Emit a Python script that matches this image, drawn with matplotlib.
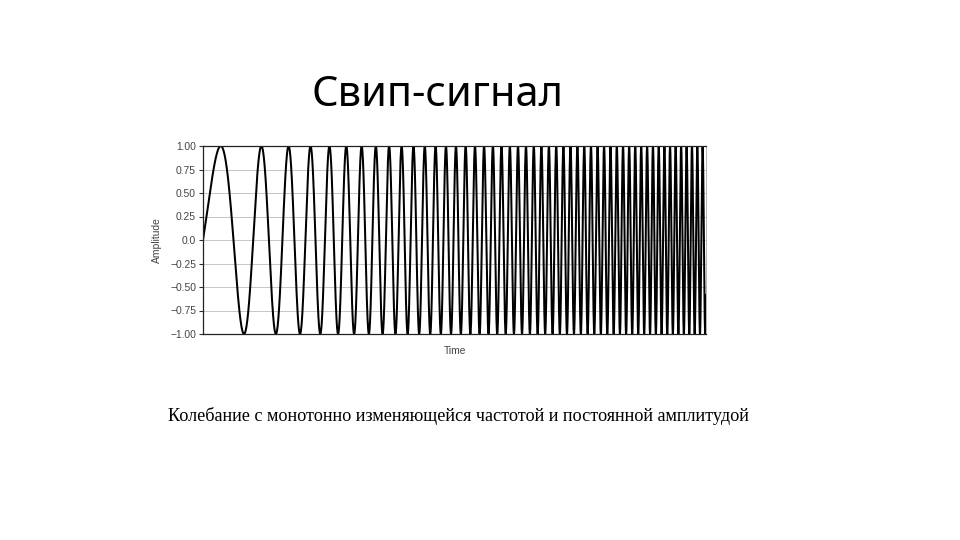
import numpy as np
import matplotlib
matplotlib.use("Agg")
import matplotlib.pyplot as plt
from matplotlib.ticker import FixedLocator, FixedFormatter

# ---- data ----
title_text = "Свип-сигнал"
caption_text = "Колебание с монотонно изменяющейся частотой и постоянной амплитудой"
x_label = "Time"
y_label = "Amplitude"
y_tick_values = [1.00, 0.75, 0.50, 0.25, 0.0, -0.25, -0.50, -0.75, -1.00]
y_tick_labels = ["1.00", "0.75", "0.50", "0.25", "0.0", "\u22120.25", "\u22120.50", "\u22120.75", "\u22121.00"]
# linear frequency sweep: time span (s) and instantaneous frequency (Hz) at its ends,
# estimated from the spacing of the peaks in the picture (~51 cycles in total)
sweep_time = [0.0, 1.0]
sweep_freq = [5.5, 96.3]
amplitude = 1.0

# ---- signal ----
t = np.linspace(sweep_time[0], sweep_time[1], 40000)
f0, f1 = sweep_freq
T = sweep_time[1] - sweep_time[0]
phase = 2 * np.pi * (f0 * t + (f1 - f0) * t ** 2 / (2 * T))
y = amplitude * np.sin(phase)

small_font = ["Liberation Sans", "DejaVu Sans"]

fig = plt.figure(figsize=(9.6, 5.4), dpi=100)
fig.patch.set_facecolor("white")

ax = fig.add_axes([203 / 960, 1 - 334 / 540, (706 - 203) / 960, (334 - 146) / 540])
ax.plot(t, y, color="black", linewidth=1.45, solid_joinstyle="miter")
ax.set_xlim(sweep_time[0], sweep_time[1])
ax.set_ylim(-1.0, 1.0)

ax.yaxis.set_major_locator(FixedLocator(y_tick_values))
ax.yaxis.set_major_formatter(FixedFormatter(y_tick_labels))
ax.set_xticks([])
ax.tick_params(axis="y", length=3, width=0.8, colors="#333333", labelsize=7.4, pad=2,
               labelcolor="#444444")
for lbl in ax.get_yticklabels():
    lbl.set_family(small_font)
ax.grid(axis="y", color="#bbbbbb", linewidth=0.6)
ax.set_axisbelow(True)
for side in ["left", "top", "bottom"]:
    ax.spines[side].set_color("#222222")
    ax.spines[side].set_linewidth(0.9)
ax.spines["right"].set_color("#aaaaaa")
ax.spines["right"].set_linewidth(0.6)

ax.set_xlabel(x_label, fontsize=7.4, color="#444444", labelpad=9, family=small_font)
ax.set_ylabel(y_label, fontsize=7.4, color="#444444", labelpad=6, family=small_font)

fig.text(438 / 960, 1 - 95 / 540, title_text, fontsize=30, family=["Noto Sans", "DejaVu Sans"],
         ha="center", va="center", color="black")
fig.text(168 / 960, 1 - 416 / 540, caption_text, fontsize=13.07, family=["Liberation Serif", "DejaVu Serif"],
         ha="left", va="center", color="black")

fig.savefig("out.png", dpi=100, facecolor="white")
